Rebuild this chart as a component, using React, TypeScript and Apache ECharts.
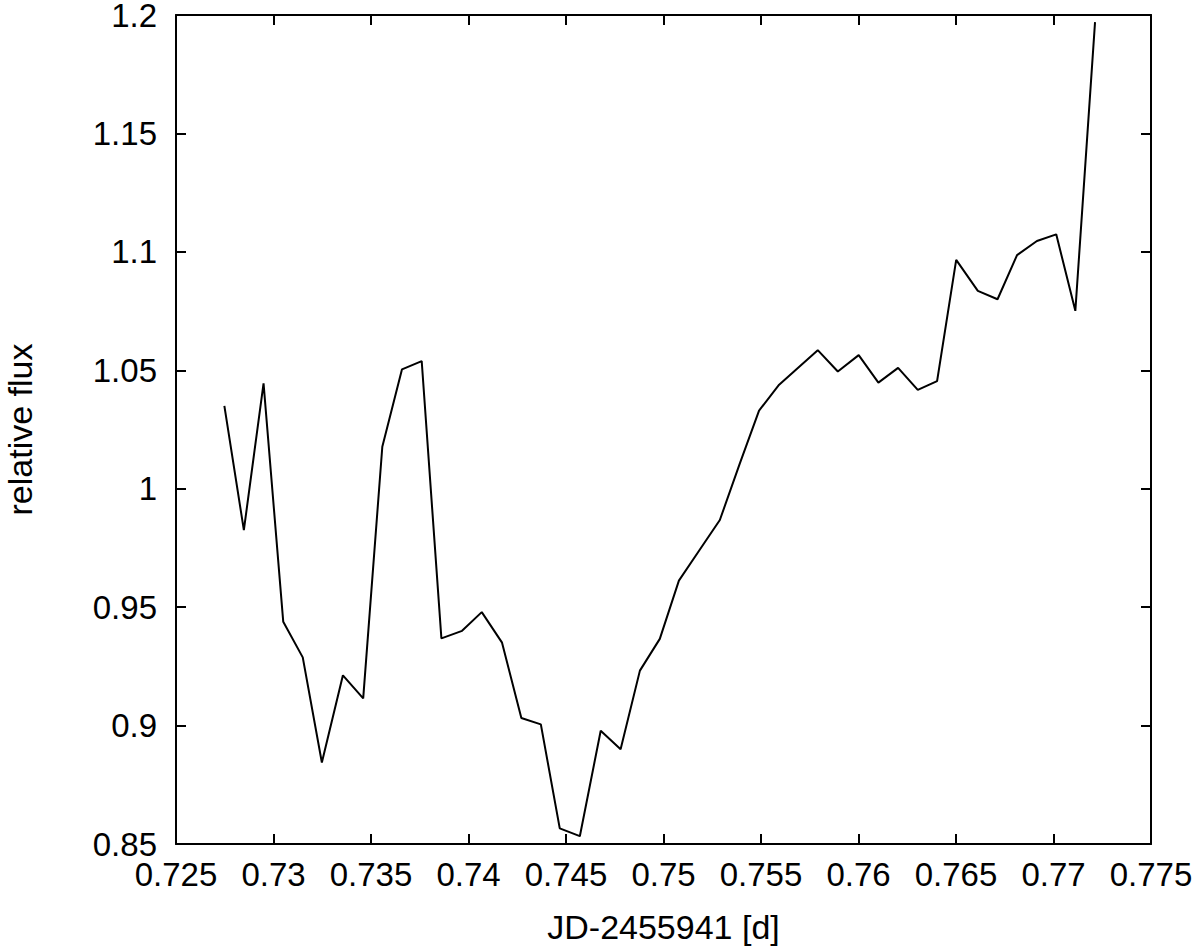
import React, { useEffect, useRef } from "react";
import * as echarts from "echarts";

const jd: number[] = [
  0.72748, 0.72848, 0.72949, 0.7305, 0.7315, 0.73248, 0.73356, 0.7346, 0.73558,
  0.73659, 0.7376, 0.73861, 0.73967, 0.74068, 0.74172, 0.74271, 0.74371, 0.74468,
  0.74571, 0.74678, 0.7478, 0.74879, 0.74981, 0.75079, 0.75184, 0.75289, 0.75392,
  0.7549, 0.75593, 0.75692, 0.75791, 0.75894, 0.76001, 0.76102, 0.76203, 0.76304,
  0.76403, 0.76501, 0.76612, 0.76713, 0.76813, 0.76915, 0.77014, 0.77112, 0.77213,
];

const flux: number[] = [
  1.035, 0.9825, 1.0445, 0.9438, 0.9288, 0.8844, 0.9212, 0.9115, 1.0177,
  1.0504, 1.0539, 0.9368, 0.94, 0.9479, 0.935, 0.9032, 0.9005, 0.8566,
  0.8533, 0.8978, 0.89, 0.9232, 0.9366, 0.9612, 0.974, 0.9868, 1.0108,
  1.033, 1.0439, 1.0512, 1.0585, 1.0495, 1.0564, 1.0448, 1.051, 1.0417,
  1.0454, 1.0966, 1.0835, 1.08, 1.0986, 1.1046, 1.1074, 1.0751, 1.197,
];

const xTitle = "JD-2455941 [d]";
const yTitle = "relative flux";

const FONT = "Liberation Sans";
const fmt = (v: number) => String(+Number(v).toFixed(3));

export default function App() {
  const ref = useRef<HTMLDivElement>(null);
  useEffect(() => {
    if (!ref.current) return;
    const chart = echarts.init(ref.current, undefined, { renderer: "svg" });
    const axisLine = { show: true, lineStyle: { color: "#000", width: 2 } };
    const tick = { show: true, inside: true, length: 10, lineStyle: { color: "#000", width: 2 } };
    const label = { color: "#000", fontFamily: FONT, fontSize: 33 };
    const nameStyle = { color: "#000", fontFamily: FONT, fontSize: 34 };
    chart.setOption({
      animation: false,
      backgroundColor: "#fff",
      grid: {
        left: 176,
        top: 15,
        right: 49,
        bottom: 107,
        containLabel: false,
        outerBoundsMode: "none",
      },
      xAxis: [
        {
          type: "value",
          min: 0.725,
          max: 0.775,
          interval: 0.005,
          position: "bottom",
          axisLine,
          axisTick: tick,
          splitLine: { show: false },
          axisLabel: { ...label, margin: 14, formatter: fmt },
          name: xTitle,
          nameLocation: "middle",
          nameGap: 66,
          nameTextStyle: nameStyle,
        },
        {
          type: "value",
          min: 0.725,
          max: 0.775,
          interval: 0.005,
          position: "top",
          axisLine,
          axisTick: tick,
          splitLine: { show: false },
          axisLabel: { show: false },
        },
      ],
      yAxis: [
        {
          type: "value",
          min: 0.85,
          max: 1.2,
          interval: 0.05,
          position: "left",
          axisLine,
          axisTick: tick,
          splitLine: { show: false },
          axisLabel: { ...label, lineHeight: 30, margin: 19, formatter: fmt },
          name: yTitle,
          nameLocation: "middle",
          nameGap: 139,
          nameRotate: 90,
          nameTextStyle: nameStyle,
        },
        {
          type: "value",
          min: 0.85,
          max: 1.2,
          interval: 0.05,
          position: "right",
          axisLine,
          axisTick: tick,
          splitLine: { show: false },
          axisLabel: { show: false },
        },
      ],
      series: [
        {
          type: "line",
          data: jd.map((x, i) => [x, flux[i]]),
          showSymbol: false,
          symbol: "none",
          lineStyle: { color: "#000", width: 2 },
          xAxisIndex: 0,
          yAxisIndex: 0,
        },
      ],
    });
    return () => chart.dispose();
  }, []);
  return (
    <div
      ref={ref}
      style={{ position: "absolute", left: 0, top: 0, width: 1200, height: 951, background: "#fff" }}
    />
  );
}
